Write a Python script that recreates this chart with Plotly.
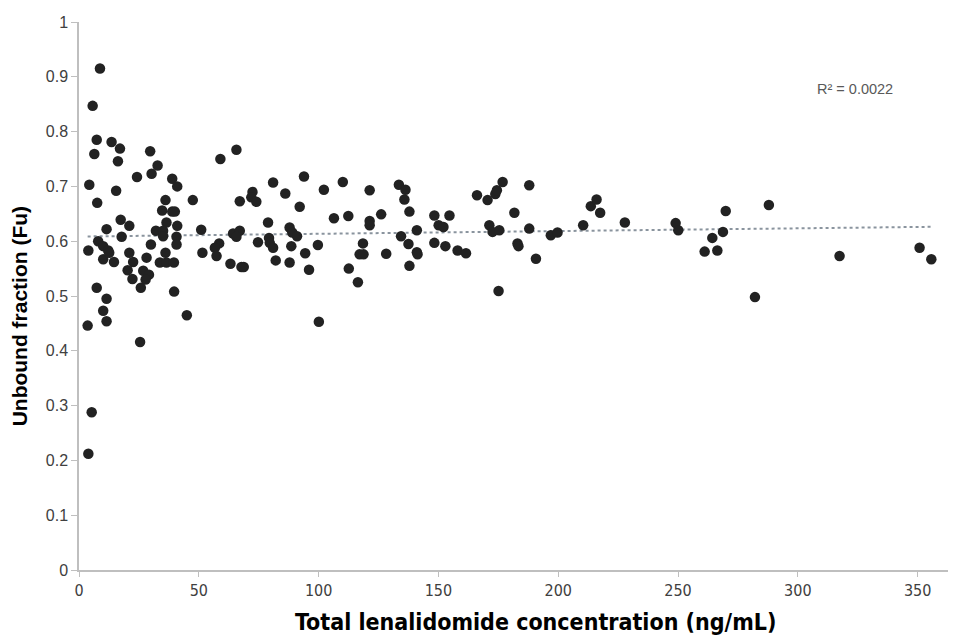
import plotly.graph_objects as go

# Total lenalidomide concentration (ng/mL)
conc = [
    8.75, 5.7, 7.4, 13.6, 17.1, 6.4, 16.25, 29.7, 32.8, 24.2,
    30.3, 38.9, 41.0, 4.3, 15.5, 7.6, 47.5, 36.1, 34.7, 38.9,
    40.0, 17.4, 21.0, 11.5, 36.5, 41.0, 51.0, 32.1, 35.1, 8.0,
    3.9, 10.1, 12.2, 10.1, 12.6, 14.6, 17.8, 21.0, 22.6, 20.3,
    22.3, 28.2, 26.8, 29.2, 27.8, 25.8, 30.0, 36.1, 33.75, 36.5,
    39.6, 35.1, 40.7, 40.7, 51.5, 7.4, 11.5, 10.1, 11.5, 3.6,
    39.7, 45.0, 25.5, 5.3, 3.9,
    59.0, 65.7, 81.0, 72.4, 71.9, 74.0, 67.1, 86.1, 93.9, 92.1,
    102.2, 110.1, 121.3, 106.4, 112.4, 121.3, 121.3, 78.9, 64.3, 67.1,
    65.7, 87.9, 89.0, 91.0, 79.3, 79.6, 81.0, 74.7, 58.5, 56.7,
    57.4, 63.2, 67.8, 68.75, 82.1, 87.9, 88.6, 94.4, 96.0, 99.7,
    100.1, 118.5, 117.1, 118.75, 112.6, 116.4,
    133.5, 136.25, 135.8, 137.9, 126.1, 148.3, 154.6, 150.1, 152.1, 141.0,
    134.4, 137.5, 141.0, 141.3, 128.2, 137.9, 148.3, 152.9, 158.0, 161.5,
    166.1, 170.5, 173.75, 174.4, 176.8, 187.9, 181.7, 171.25, 172.6, 175.4,
    187.9, 183.0, 183.4, 190.7, 175.1,
    196.9, 199.7, 210.4, 213.6, 216.0, 217.5, 227.8, 249.0, 250.1, 261.1,
    264.3, 266.4, 268.75, 269.9,
    287.9, 282.1, 317.4, 350.8, 355.7,
]

# Unbound fraction (Fu)
fu = [
    0.915, 0.847, 0.785, 0.781, 0.769, 0.759, 0.746, 0.764, 0.738, 0.717,
    0.723, 0.714, 0.700, 0.703, 0.692, 0.670, 0.675, 0.675, 0.656, 0.654,
    0.654, 0.639, 0.628, 0.622, 0.634, 0.628, 0.621, 0.619, 0.619, 0.600,
    0.583, 0.591, 0.583, 0.567, 0.579, 0.562, 0.608, 0.579, 0.562, 0.547,
    0.531, 0.570, 0.546, 0.539, 0.530, 0.515, 0.594, 0.579, 0.561, 0.561,
    0.561, 0.609, 0.608, 0.594, 0.579, 0.515, 0.495, 0.473, 0.454, 0.446,
    0.508, 0.465, 0.416, 0.288, 0.212,
    0.750, 0.767, 0.707, 0.690, 0.680, 0.672, 0.673, 0.687, 0.718, 0.663,
    0.694, 0.708, 0.693, 0.642, 0.646, 0.637, 0.629, 0.634, 0.614, 0.619,
    0.608, 0.625, 0.616, 0.609, 0.606, 0.597, 0.588, 0.598, 0.596, 0.588,
    0.573, 0.559, 0.553, 0.553, 0.565, 0.561, 0.591, 0.578, 0.548, 0.593,
    0.453, 0.596, 0.576, 0.576, 0.550, 0.525,
    0.703, 0.694, 0.676, 0.654, 0.649, 0.647, 0.647, 0.629, 0.626, 0.620,
    0.609, 0.595, 0.580, 0.576, 0.577, 0.555, 0.597, 0.591, 0.583, 0.578,
    0.684, 0.675, 0.686, 0.693, 0.708, 0.702, 0.652, 0.629, 0.617, 0.620,
    0.623, 0.596, 0.591, 0.568, 0.509,
    0.611, 0.616, 0.629, 0.664, 0.676, 0.652, 0.634, 0.633, 0.620, 0.581,
    0.606, 0.583, 0.617, 0.655,
    0.666, 0.498, 0.573, 0.588, 0.567,
]

# Linear trendline
trend_intercept = 0.6085
trend_slope = 0.00005
r_squared_label = "R² = 0.0022"

x_title = "Total lenalidomide concentration (ng/mL)"
y_title = "Unbound fraction (Fu)"

x_ticks = [0, 50, 100, 150, 200, 250, 300, 350]
y_ticks = [0, 0.1, 0.2, 0.3, 0.4, 0.5, 0.6, 0.7, 0.8, 0.9, 1]
y_tick_text = ["0", "0.1", "0.2", "0.3", "0.4", "0.5", "0.6", "0.7", "0.8", "0.9", "1"]

x_min, x_max = min(conc), max(conc)
trend_x = [x_min, x_max]
trend_y = [trend_intercept + trend_slope * v for v in trend_x]

narrow = "DejaVu Sans Condensed, Liberation Sans Narrow, Arial Narrow, sans-serif"
regular = "Liberation Sans, Arial, sans-serif"

fig = go.Figure()
fig.add_trace(go.Scatter(
    x=trend_x, y=trend_y, mode="lines",
    line=dict(color="#8a949e", width=2, dash="dot"),
    hoverinfo="skip", showlegend=False,
))
fig.add_trace(go.Scatter(
    x=conc, y=fu, mode="markers",
    marker=dict(size=10.5, color="#222222", line=dict(width=0)),
    showlegend=False,
))

fig.add_annotation(
    x=324, y=0.877, xref="x", yref="y", text=r_squared_label, showarrow=False,
    font=dict(family=regular, size=14.5, color="#595959"),
)
# axis titles placed as annotations to match the reference placement
fig.add_annotation(
    x=0.52, y=-0.095, xref="paper", yref="paper", text="<b>" + x_title + "</b>",
    showarrow=False, xanchor="center", yanchor="middle",
    font=dict(family=narrow, size=23, color="#000000"),
)
fig.add_annotation(
    x=-0.068, y=0.4635, xref="paper", yref="paper", text="<b>" + y_title + "</b>",
    showarrow=False, textangle=-90, xanchor="center", yanchor="middle",
    font=dict(family=regular, size=21, color="#000000"),
)

# page body adds an 8px offset; the figure is sized to fill the rest of the window
fig.update_layout(
    width=948, height=627,
    margin=dict(l=71, r=0, t=14, b=65),
    paper_bgcolor="white", plot_bgcolor="white",
    font=dict(family=regular, color="#595959"),
    xaxis=dict(
        range=[0, 366], tickvals=x_ticks, showgrid=False, zeroline=False,
        showline=True, linecolor="#bfbfbf", linewidth=1.5,
        ticks="outside", ticklen=5, tickcolor="#bfbfbf",
        automargin=False,
        tickfont=dict(family=narrow, size=16, color="#404040"),
    ),
    yaxis=dict(
        range=[0, 1], tickvals=y_ticks, ticktext=y_tick_text, showgrid=False, zeroline=False,
        showline=True, linecolor="#bfbfbf", linewidth=1.5,
        ticks="outside", ticklen=6, tickcolor="#bfbfbf",
        automargin=False,
        tickfont=dict(family=regular, size=16, color="#404040"),
    ),
)

fig.write_html("out.html")
